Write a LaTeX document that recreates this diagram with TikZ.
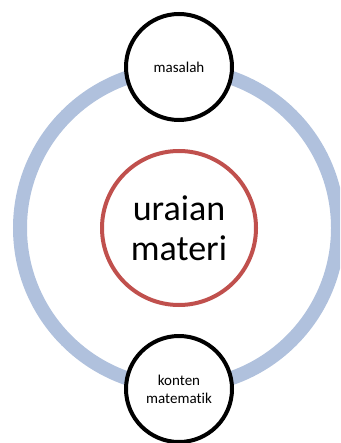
\documentclass[tikz,border=0pt]{standalone}
\usepackage{fontspec}
\setmainfont{Carlito}[Ligatures={NoCommon,NoRare,NoDiscretionary}]
\usetikzlibrary{calc}

\definecolor{cincin}{RGB}{176,193,221}
\definecolor{merah}{RGB}{192,80,77}

\begin{document}
\begin{tikzpicture}[x=1pt,y=-1pt]
    \useasboundingbox (0,0) rectangle (340,443);
    \clip (0,0) rectangle (340,443);
    \coordinate (o) at (179,228);
    \coordinate (a) at (179,67);
    \coordinate (b) at (179,389);
    \draw[cincin, line width=14pt] (o) circle (159pt);
    \node[circle, draw, line width=4pt, fill=white, minimum size=106pt,
        align=center, font=\fontsize{15}{18}\selectfont] (masalah) at (a) {masalah};
    \node[circle, draw, line width=4pt, fill=white, minimum size=106pt,
        align=center, font=\fontsize{15}{18}\selectfont] (konten) at (b) {konten\\matematik};
    \node[circle, draw=merah, line width=4pt, minimum size=154pt,
        align=center, font=\fontsize{36}{40}\selectfont] (uraian) at (o) {uraian\\materi};
\end{tikzpicture}
\end{document}
